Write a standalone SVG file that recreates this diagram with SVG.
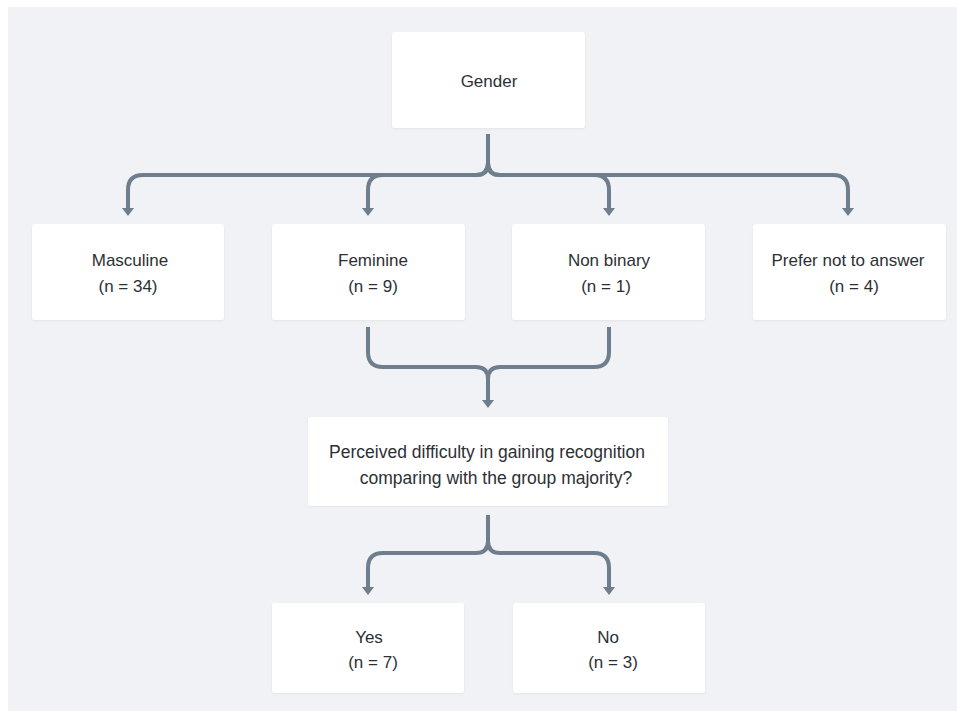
<svg xmlns="http://www.w3.org/2000/svg" width="957" height="711" viewBox="0 0 957 711">
<defs>
<style>
.box{fill:#ffffff;filter:url(#sh)}
.t{font-family:"Liberation Sans",Arial,sans-serif;font-size:17px;fill:#2c3035;text-anchor:middle}
.q{font-size:17.5px}
.c{fill:none;stroke:#6e7e8d;stroke-width:4;stroke-linecap:butt;stroke-linejoin:round}
</style>
<filter id="sh" x="-5%" y="-5%" width="110%" height="115%">
<feDropShadow dx="0" dy="1" stdDeviation="1" flood-color="#000" flood-opacity="0.06"/>
</filter>
<marker id="ah" viewBox="0 0 8 12" refX="1" refY="6" markerWidth="8" markerHeight="12" markerUnits="userSpaceOnUse" orient="auto">
<path d="M0,0 L8,6 L0,12 Z" fill="#6e7e8d"/>
</marker>
</defs>
<rect x="0" y="0" width="957" height="711" fill="#ffffff"/>
<rect x="8" y="7" width="949" height="704" fill="#f1f2f5"/>

<g id="connectors">
<path class="c" marker-end="url(#ah)" d="M488,134 V163 Q488,175 476,175 H143 Q128,175 128,190 V209"/>
<path class="c" marker-end="url(#ah)" d="M488,134 V163 Q488,175 476,175 H383 Q368,175 368,190 V209"/>
<path class="c" marker-end="url(#ah)" d="M488,134 V163 Q488,175 500,175 H594 Q609,175 609,190 V209"/>
<path class="c" marker-end="url(#ah)" d="M488,134 V163 Q488,175 500,175 H833 Q848,175 848,190 V209"/>
<path class="c" marker-end="url(#ah)" d="M368,327 V352 Q368,367 383,367 H476 Q488,367 488,379 V401"/>
<path class="c" d="M609,327 V352 Q609,367 594,367 H500 Q488,367 488,379"/>
<path class="c" marker-end="url(#ah)" d="M488,515 V541 Q488,553 476,553 H383 Q368,553 368,568 V588"/>
<path class="c" marker-end="url(#ah)" d="M488,515 V541 Q488,553 500,553 H594 Q609,553 609,568 V588"/>
</g>

<g id="gender">
<rect class="box" x="392" y="32" width="193" height="96" rx="3"/>
<text class="t" x="489" y="87">Gender</text>
</g>
<g id="masculine">
<rect class="box" x="32" y="224" width="192" height="96" rx="3"/>
<text class="t" x="130" y="266">Masculine</text>
<text class="t" x="128" y="292">(n = 34)</text>
</g>
<g id="feminine">
<rect class="box" x="272" y="224" width="193" height="96" rx="3"/>
<text class="t" x="373" y="266">Feminine</text>
<text class="t" x="373" y="292">(n = 9)</text>
</g>
<g id="nonbinary">
<rect class="box" x="512" y="224" width="193" height="96" rx="3"/>
<text class="t" x="609" y="266">Non binary</text>
<text class="t" x="606" y="292">(n = 1)</text>
</g>
<g id="prefer">
<rect class="box" x="753" y="224" width="193" height="96" rx="3"/>
<text class="t" x="848" y="266">Prefer not to answer</text>
<text class="t" x="854" y="292">(n = 4)</text>
</g>
<g id="question">
<rect class="box" x="308" y="417" width="360" height="89" rx="3"/>
<text class="t q" x="487" y="458">Perceived difficulty in gaining recognition</text>
<text class="t q" x="496" y="484">comparing with the group majority?</text>
</g>
<g id="yes">
<rect class="box" x="272" y="603" width="192" height="90" rx="3"/>
<text class="t" x="369" y="643">Yes</text>
<text class="t" x="373" y="668">(n = 7)</text>
</g>
<g id="no">
<rect class="box" x="513" y="603" width="192" height="90" rx="3"/>
<text class="t" x="608" y="643">No</text>
<text class="t" x="613" y="668">(n = 3)</text>
</g>
</svg>
